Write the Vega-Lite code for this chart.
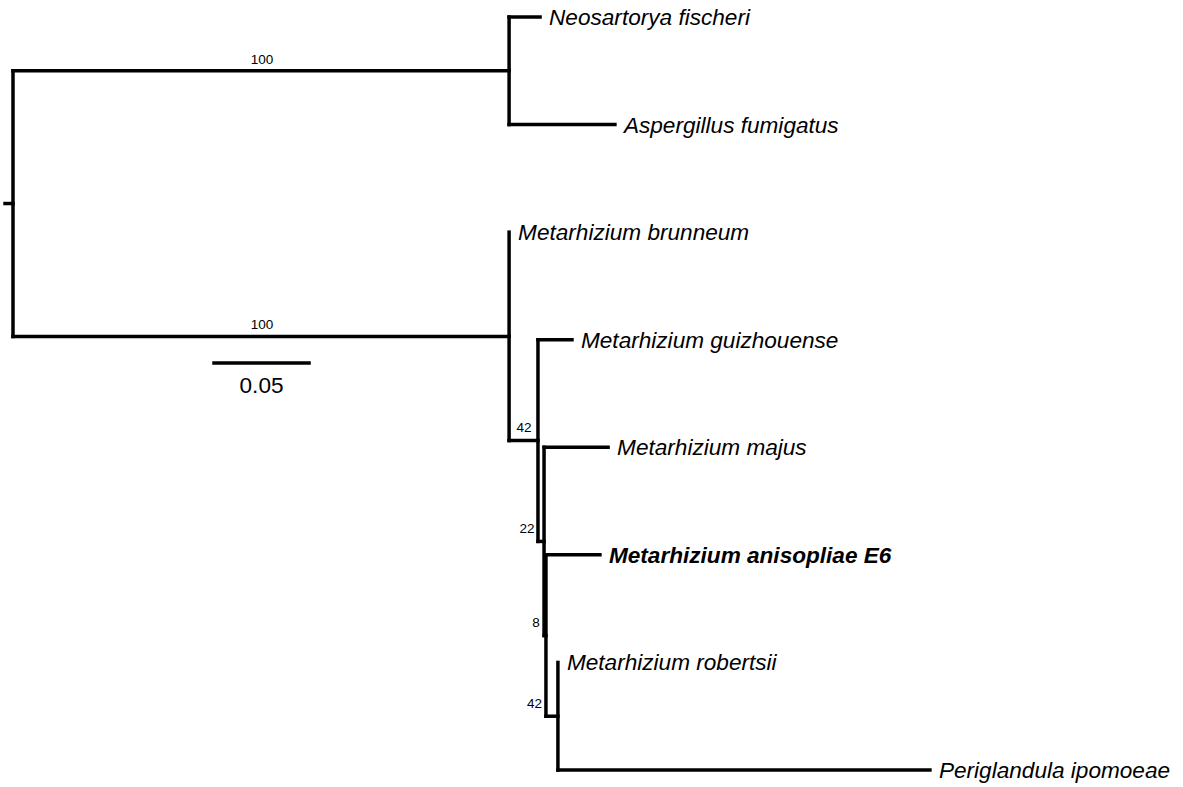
{
  "$schema": "https://vega.github.io/schema/vega-lite/v6.json",
  "width": 1183,
  "height": 787,
  "autosize": {"type": "fit", "contains": "padding"},
  "padding": 0,
  "background": "white",
  "config": {"view": {"stroke": null}},
  "datasets": {
    "branches": [
      {"x": -0.0042, "x2": 0, "y": 1.734, "y2": 1.734},
      {"x": 0, "x2": 0.2611, "y": 0.5, "y2": 0.5},
      {"x": 0, "x2": 0.2611, "y": 2.969, "y2": 2.969},
      {"x": 0.2611, "x2": 0.2774, "y": 0, "y2": 0},
      {"x": 0.2611, "x2": 0.3168, "y": 1, "y2": 1},
      {"x": 0.2611, "x2": 0.2763, "y": 3.9375, "y2": 3.9375},
      {"x": 0.2763, "x2": 0.2942, "y": 3, "y2": 3},
      {"x": 0.2763, "x2": 0.2795, "y": 4.875, "y2": 4.875},
      {"x": 0.2795, "x2": 0.3132, "y": 4, "y2": 4},
      {"x": 0.2795, "x2": 0.2805, "y": 5.75, "y2": 5.75},
      {"x": 0.2805, "x2": 0.3089, "y": 5, "y2": 5},
      {"x": 0.2805, "x2": 0.2868, "y": 6.5, "y2": 6.5},
      {"x": 0.2868, "x2": 0.4826, "y": 7, "y2": 7},
      {"x": 0, "x2": 0, "y": 0.5, "y2": 2.969},
      {"x": 0.2611, "x2": 0.2611, "y": 0, "y2": 1},
      {"x": 0.2611, "x2": 0.2611, "y": 2, "y2": 3.9375},
      {"x": 0.2763, "x2": 0.2763, "y": 3, "y2": 4.875},
      {"x": 0.2795, "x2": 0.2795, "y": 4, "y2": 5.75},
      {"x": 0.2805, "x2": 0.2805, "y": 5, "y2": 6.5},
      {"x": 0.2868, "x2": 0.2868, "y": 6, "y2": 7},
      {"x": 0.1058, "x2": 0.1558, "y": 3.217, "y2": 3.217}
    ],
    "leaves": [
      {"name": "Neosartorya fischeri", "x": 0.2774, "y": 0, "bold": false},
      {"name": "Aspergillus fumigatus", "x": 0.3168, "y": 1, "bold": false},
      {"name": "Metarhizium brunneum", "x": 0.2611, "y": 2, "bold": false},
      {"name": "Metarhizium guizhouense", "x": 0.2942, "y": 3, "bold": false},
      {"name": "Metarhizium majus", "x": 0.3132, "y": 4, "bold": false},
      {"name": "Metarhizium anisopliae E6", "x": 0.3089, "y": 5, "bold": true},
      {"name": "Metarhizium robertsii", "x": 0.2868, "y": 6, "bold": false},
      {"name": "Periglandula ipomoeae", "x": 0.4826, "y": 7, "bold": false}
    ],
    "support": [
      {"label": "100", "x": 0.1311, "y": 0.4},
      {"label": "100", "x": 0.1311, "y": 2.859},
      {"label": "42", "x": 0.2689, "y": 3.821},
      {"label": "22", "x": 0.2705, "y": 4.76},
      {"label": "8", "x": 0.2753, "y": 5.634},
      {"label": "42", "x": 0.2745, "y": 6.387}
    ],
    "scalebar": [
      {"label": "0.05", "x": 0.1308, "y": 3.43}
    ]
  },
  "layer": [
    {
      "data": {"name": "branches"},
      "mark": {"type": "rule", "stroke": "black", "strokeWidth": 3.5, "strokeCap": "square"},
      "encoding": {
        "x": {"field": "x", "type": "quantitative", "scale": {"domain": [-0.00684, 0.61579], "nice": false, "zero": false}, "axis": null},
        "x2": {"field": "x2"},
        "y": {"field": "y", "type": "quantitative", "scale": {"domain": [-0.158, 7.158], "nice": false, "zero": false, "reverse": true}, "axis": null},
        "y2": {"field": "y2"}
      }
    },
    {
      "data": {"name": "leaves"},
      "transform": [{"filter": "!datum.bold"}],
      "mark": {"type": "text", "align": "left", "baseline": "middle", "dx": 9, "dy": 1, "font": "Liberation Sans", "fontSize": 22.6, "fontStyle": "italic", "color": "black"},
      "encoding": {
        "x": {"field": "x", "type": "quantitative"},
        "y": {"field": "y", "type": "quantitative"},
        "text": {"field": "name"}
      }
    },
    {
      "data": {"name": "leaves"},
      "transform": [{"filter": "datum.bold"}],
      "mark": {"type": "text", "align": "left", "baseline": "middle", "dx": 9, "dy": 1, "font": "Liberation Sans", "fontSize": 22.6, "fontStyle": "italic", "fontWeight": "bold", "color": "black"},
      "encoding": {
        "x": {"field": "x", "type": "quantitative"},
        "y": {"field": "y", "type": "quantitative"},
        "text": {"field": "name"}
      }
    },
    {
      "data": {"name": "support"},
      "mark": {"type": "text", "align": "center", "baseline": "middle", "font": "Liberation Sans", "fontSize": 13.5, "color": "black"},
      "encoding": {
        "x": {"field": "x", "type": "quantitative"},
        "y": {"field": "y", "type": "quantitative"},
        "text": {"field": "label"}
      }
    },
    {
      "data": {"name": "scalebar"},
      "mark": {"type": "text", "align": "center", "baseline": "middle", "font": "Liberation Sans", "fontSize": 22.6, "color": "black"},
      "encoding": {
        "x": {"field": "x", "type": "quantitative"},
        "y": {"field": "y", "type": "quantitative"},
        "text": {"field": "label"}
      }
    }
  ]
}
